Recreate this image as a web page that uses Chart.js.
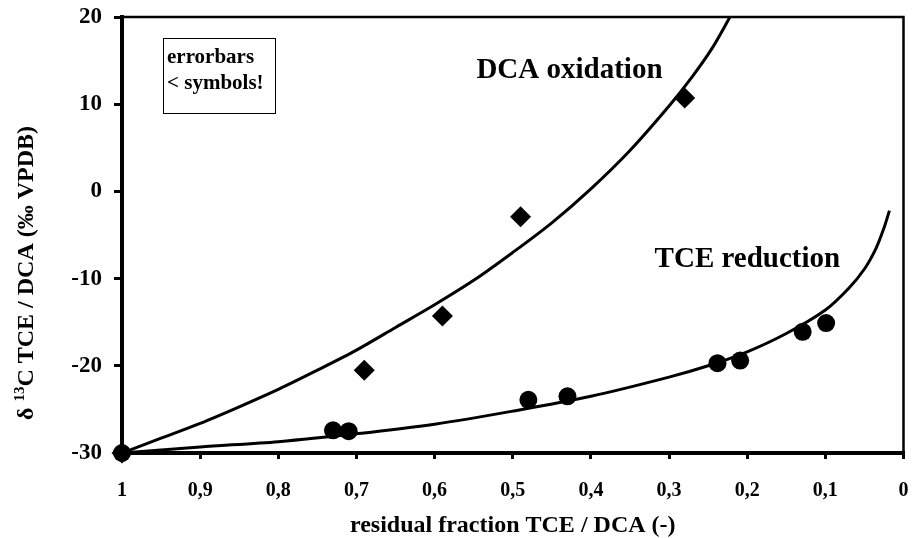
<!DOCTYPE html>
<html>
<head>
<meta charset="utf-8">
<script src="https://cdn.jsdelivr.net/npm/chart.js@4"></script>
<style>
html, body { margin: 0; padding: 0; background: #fff; }
#wrap { width: 914px; height: 538px; }
</style>
</head>
<body>
<div id="wrap"><canvas id="chart" width="914" height="538"></canvas></div>
<script>
// measured points (residual fraction, delta 13C)
const dcaFraction = [1, 0.69, 0.59, 0.49, 0.28];
const dcaDelta = [-30, -20.5, -14.3, -2.9, 10.7];
const tceFraction = [1, 0.73, 0.71, 0.48, 0.43, 0.238, 0.209, 0.129, 0.099];
const tceDelta = [-30, -27.4, -27.5, -23.9, -23.5, -19.7, -19.4, -16.1, -15.1];

// fitted curves
const dcaFitFraction = [1, 0.95, 0.9, 0.85, 0.8, 0.75, 0.7, 0.65, 0.6, 0.55, 0.5, 0.45, 0.4, 0.35, 0.3, 0.27, 0.245, 0.222];
const dcaFitDelta = [-30, -28.3, -26.6, -24.7, -22.7, -20.5, -18.2, -15.6, -13.0, -10.2, -7.0, -3.6, 0.3, 4.7, 9.8, 13.2, 16.4, 20];
const tceFitFraction = [1, 0.9, 0.8, 0.7, 0.6, 0.5, 0.4, 0.3, 0.25, 0.2, 0.15, 0.1, 0.07, 0.05, 0.035, 0.025, 0.018];
const tceFitDelta = [-30, -29.3, -28.7, -27.8, -26.7, -25.2, -23.5, -21.3, -20.0, -18.4, -16.3, -13.6, -11.1, -8.9, -6.5, -4.2, -2.2];

// axes
const xTicks = [1, 0.9, 0.8, 0.7, 0.6, 0.5, 0.4, 0.3, 0.2, 0.1, 0];
const xTickLabels = ['1', '0,9', '0,8', '0,7', '0,6', '0,5', '0,4', '0,3', '0,2', '0,1', '0'];
const yTicks = [20, 10, 0, -10, -20, -30];
const xTitle = 'residual fraction TCE / DCA (-)';
const yTitleParts = ['\u03B4 ', '13', 'C TCE / DCA (\u2030 VPDB)'];
const noteLines = ['errorbars', '< symbols!'];
const dcaLabel = 'DCA oxidation';
const tceLabel = 'TCE reduction';

const serif = '"Liberation Serif", "Times New Roman", serif';

function toXY(xs, ys) {
    return xs.map((x, i) => ({ x: x, y: ys[i] }));
}

const extras = {
    id: 'extras',
    afterDraw(chart) {
        const ctx = chart.ctx;
        const a = chart.chartArea;
        const xs = chart.scales.x;
        const ys = chart.scales.y;
        ctx.save();

        // plot area frame, top and right
        ctx.strokeStyle = '#000';
        ctx.lineWidth = 2.5;
        ctx.beginPath();
        ctx.moveTo(a.left, a.top);
        ctx.lineTo(a.right, a.top);
        ctx.lineTo(a.right, a.bottom);
        ctx.stroke();

        // note box
        ctx.lineWidth = 1;
        ctx.strokeRect(163.5, 38.5, 112, 75);
        ctx.fillStyle = '#000';
        ctx.font = 'bold 21px ' + serif;
        ctx.textAlign = 'left';
        ctx.textBaseline = 'alphabetic';
        ctx.fillText(noteLines[0], 167, 63);
        ctx.fillText(noteLines[1], 167, 89);

        // curve labels
        ctx.font = 'bold 29px ' + serif;
        ctx.fillText(dcaLabel, xs.getPixelForValue(0.5465), ys.getPixelForValue(13.0));
        ctx.fillText(tceLabel, xs.getPixelForValue(0.3185), ys.getPixelForValue(-8.67));

        // y axis title with superscript
        ctx.translate(33, (a.top + a.bottom) / 2 + 38);
        ctx.rotate(-Math.PI / 2);
        const big = 'bold 24px ' + serif;
        const small = 'bold 15px ' + serif;
        ctx.font = big;
        const w0 = ctx.measureText(yTitleParts[0]).width;
        const w2 = ctx.measureText(yTitleParts[2]).width;
        ctx.font = small;
        const w1 = ctx.measureText(yTitleParts[1]).width;
        let x = -(w0 + w1 + w2) / 2;
        ctx.font = big;
        ctx.fillText(yTitleParts[0], x, 0);
        x += w0;
        ctx.font = small;
        ctx.fillText(yTitleParts[1], x, -9);
        x += w1;
        ctx.font = big;
        ctx.fillText(yTitleParts[2], x, 0);

        ctx.restore();
    }
};

new Chart(document.getElementById('chart'), {
    type: 'scatter',
    data: {
        datasets: [
            {
                label: 'DCA',
                data: toXY(dcaFraction, dcaDelta),
                pointStyle: 'rectRot',
                pointRadius: 10.5,
                backgroundColor: '#000',
                borderColor: '#000',
                borderWidth: 0,
                clip: false
            },
            {
                label: 'TCE',
                data: toXY(tceFraction, tceDelta),
                pointStyle: 'circle',
                pointRadius: 9,
                backgroundColor: '#000',
                borderColor: '#000',
                borderWidth: 0,
                clip: false
            },
            {
                label: 'DCA fit',
                data: toXY(dcaFitFraction, dcaFitDelta),
                showLine: true,
                pointRadius: 0,
                borderColor: '#000',
                borderWidth: 3,
                tension: 0.3,
                fill: false
            },
            {
                label: 'TCE fit',
                data: toXY(tceFitFraction, tceFitDelta),
                showLine: true,
                pointRadius: 0,
                borderColor: '#000',
                borderWidth: 3,
                tension: 0.3,
                fill: false
            }
        ]
    },
    options: {
        responsive: false,
        animation: false,
        layout: { padding: { left: 0, right: 7, top: 17, bottom: 0 } },
        plugins: {
            legend: { display: false },
            tooltip: { enabled: false }
        },
        scales: {
            x: {
                type: 'linear',
                reverse: true,
                min: 0,
                max: 1,
                afterBuildTicks: axis => { axis.ticks = xTicks.map(v => ({ value: v })); },
                afterFit: axis => {
                    axis.height = 85;
                    axis.paddingLeft = 0;
                    axis.paddingRight = 0;
                },
                border: { display: true, color: '#000', width: 4 },
                grid: { drawOnChartArea: false, drawTicks: true, tickLength: 6, tickWidth: 3, color: '#000', lineWidth: 3 },
                ticks: {
                    color: '#000',
                    padding: 20,
                    maxRotation: 0,
                    font: { family: serif, size: 20, weight: 'bold' },
                    callback: value => {
                        const i = xTicks.findIndex(t => Math.abs(t - value) < 1e-6);
                        return i >= 0 ? xTickLabels[i] : '';
                    }
                },
                title: {
                    display: true,
                    text: xTitle,
                    color: '#000',
                    padding: { top: 0, bottom: 0 },
                    font: { family: serif, size: 24, weight: 'bold', lineHeight: 1 }
                }
            },
            y: {
                type: 'linear',
                min: -30,
                max: 20,
                afterBuildTicks: axis => { axis.ticks = yTicks.map(v => ({ value: v })); },
                afterFit: axis => {
                    axis.width = 122;
                    axis.paddingTop = 0;
                    axis.paddingBottom = 0;
                },
                border: { display: true, color: '#000', width: 4 },
                grid: { drawOnChartArea: false, drawTicks: true, tickLength: 8, tickWidth: 3, color: '#000', lineWidth: 3 },
                ticks: {
                    color: '#000',
                    padding: 12,
                    font: { family: serif, size: 23, weight: 'bold' }
                }
            }
        }
    },
    plugins: [extras]
});
</script>
</body>
</html>
